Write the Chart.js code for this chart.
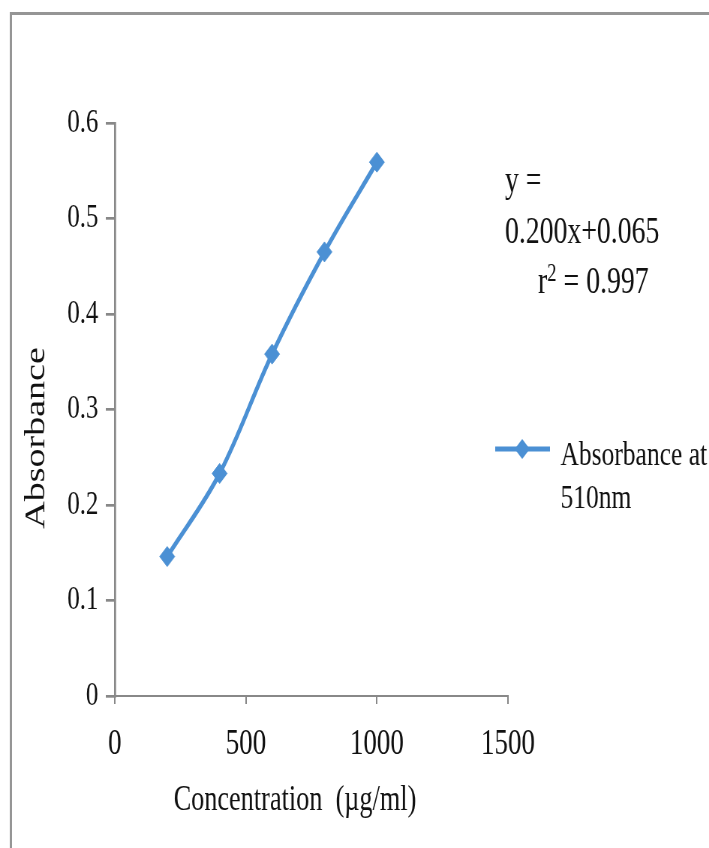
<!DOCTYPE html>
<html lang="en">

<head>
    <meta charset="UTF-8">
    <script src="https://cdn.jsdelivr.net/npm/chart.js"></script>
    <title>Absorbance</title>
    <style>
        html, body { margin: 0; padding: 0; background: white; overflow: hidden; }
        .wrap { width: 709px; height: 848px; overflow: hidden; }
        /* the original figure is squeezed sideways, so the canvas is drawn wider and pressed */
        #myChart { transform: scaleX(0.7503); transform-origin: 0 0; }
    </style>
</head>

<body>
    <div class="wrap">
        <canvas id="myChart" width="945" height="848"></canvas>
    </div>
</body>

</html>

<script>
    var concentracao = [200, 400, 600, 800, 1000]
    var absorbancia = [0.146, 0.233, 0.358, 0.465, 0.559]
    var nomeSerie = ['Absorbance at', '510nm']
    var equacao = ['y =', '0.200x+0.065']
    var rQuadrado = '0.997'

    var azul = '#4b90d4'
    var cinza = '#888888'
    var fonte = 'Liberation Serif'

    function losango(ctx, x, y, r) {
        ctx.beginPath()
        ctx.moveTo(x, y - r)
        ctx.lineTo(x + r, y)
        ctx.lineTo(x, y + r)
        ctx.lineTo(x - r, y)
        ctx.closePath()
        ctx.fill()
    }

    // fundo branco e a moldura cinza (so topo e esquerda aparecem)
    const moldura = {
        id: 'moldura',
        beforeDraw(chart) {
            const ctx = chart.ctx
            ctx.save()
            ctx.fillStyle = 'white'
            ctx.fillRect(0, 0, chart.width, chart.height)
            ctx.fillStyle = '#959595'
            ctx.fillRect(13, 12, chart.width - 13, 3)
            ctx.fillRect(13, 12, 3, chart.height - 12)
            ctx.restore()
        }
    }

    // legenda e equacao escritas a mao, em duas linhas como no original
    const textos = {
        id: 'textos',
        afterDraw(chart) {
            const ctx = chart.ctx
            ctx.save()
            ctx.fillStyle = '#111'
            ctx.textBaseline = 'alphabetic'
            ctx.textAlign = 'left'

            ctx.font = '37px "' + fonte + '"'
            ctx.fillText(equacao[0], 673, 192)
            ctx.fillText(equacao[1], 673, 243)
            ctx.fillText('r', 717, 293)
            let w = ctx.measureText('r').width
            ctx.font = '25px "' + fonte + '"'
            ctx.fillText('2', 717 + w, 281)
            let w2 = ctx.measureText('2').width
            ctx.font = '37px "' + fonte + '"'
            ctx.fillText(' = ' + rQuadrado, 717 + w + w2, 293)

            // legenda
            ctx.strokeStyle = azul
            ctx.lineWidth = 5
            ctx.beginPath()
            ctx.moveTo(660, 449)
            ctx.lineTo(733, 449)
            ctx.stroke()
            ctx.fillStyle = azul
            losango(ctx, 696, 449, 10)

            ctx.fillStyle = '#111'
            ctx.font = '34px "' + fonte + '"'
            ctx.fillText(nomeSerie[0], 747, 465)
            ctx.fillText(nomeSerie[1], 747, 508)
            ctx.restore()
        }
    }

    let dados = {
        datasets: [{
            label: nomeSerie.join(' '),
            data: concentracao.map((c, i) => ({ x: c, y: absorbancia[i] })),
            borderColor: azul,
            backgroundColor: azul,
            borderWidth: 5,
            tension: 0.35,
            pointStyle: 'rectRot',
            pointRadius: 10,
            pointBorderWidth: 1,
            pointBackgroundColor: azul,
            pointBorderColor: azul
        }]
    }

    const config = {
        type: 'line',
        data: dados,
        options: {
            responsive: false,
            animation: false,
            events: [],
            layout: { padding: { top: 123, right: 268, left: 0, bottom: 0 } },
            plugins: {
                legend: { display: false },
                tooltip: { enabled: false }
            },
            scales: {
                x: {
                    type: 'linear',
                    min: 0,
                    max: 1500,
                    afterFit: (s) => { s.height = 152 },
                    border: { display: true, color: cinza, width: 2 },
                    grid: { drawOnChartArea: false, drawTicks: true, tickLength: 8, color: cinza, lineWidth: 2 },
                    ticks: {
                        stepSize: 500,
                        padding: 19,
                        color: '#111',
                        font: { family: fonte, size: 36 },
                        callback: (v) => String(v)
                    },
                    title: {
                        display: true,
                        text: 'Concentration  (\u00b5g/ml)     ',
                        color: '#111',
                        font: { family: fonte, size: 35 },
                        padding: { top: 0, bottom: 26 }
                    }
                },
                y: {
                    min: 0,
                    max: 0.6,
                    afterFit: (s) => { s.width = 153 },
                    border: { display: true, color: cinza, width: 2.7 },
                    grid: { drawOnChartArea: false, drawTicks: true, tickLength: 12, color: cinza, lineWidth: 2.7 },
                    ticks: {
                        stepSize: 0.1,
                        padding: 10,
                        color: '#111',
                        font: { family: fonte, size: 33 },
                        callback: (v) => String(+v.toFixed(1))
                    },
                    title: {
                        display: true,
                        text: 'Absorbance      ',
                        color: '#111',
                        font: { family: fonte, size: 38 },
                        padding: { top: 26, bottom: 0 }
                    }
                }
            }
        },
        plugins: [moldura, textos]
    }

    let myChart = new Chart(document.getElementById('myChart'), config)
</script>
